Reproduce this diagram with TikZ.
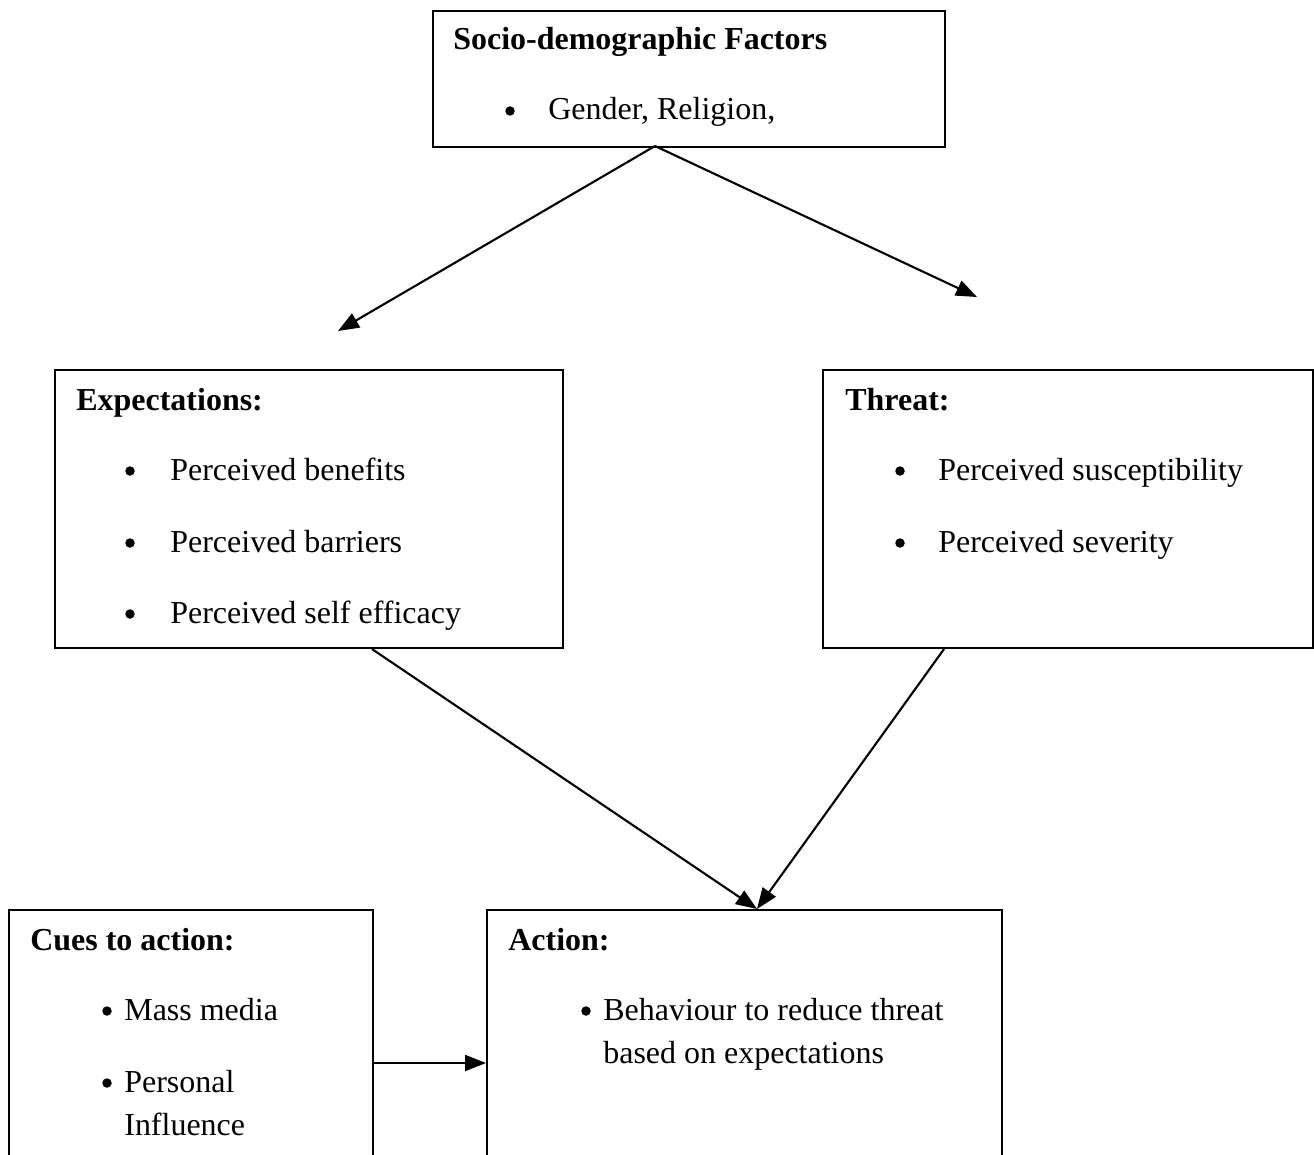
\documentclass[tikz,border=0pt]{standalone}
\usepackage{fontspec}
\setmainfont{Liberation Serif}
\usetikzlibrary{arrows.meta}
\tikzset{
  box/.style={draw, line width=1.2pt, anchor=north west, inner sep=0pt},
  head/.style={anchor=base west, font=\fontsize{18.2}{22}\selectfont\bfseries, inner sep=0pt},
  item/.style={anchor=base west, font=\fontsize{18.2}{22}\selectfont, inner sep=0pt},
  dot/.style={circle, fill, inner sep=0pt, minimum size=0.19cm},
  link/.style={line width=1.2pt, -{Triangle[length=0.42cm, width=0.32cm]}}
}
\begin{document}
\begin{tikzpicture}[x=0.02cm, y=-0.02cm]
\useasboundingbox (0,0) rectangle (1314,1155);
\clip (0,0) rectangle (1314,1155);

% рамки
            \node [box, minimum width=10.24cm, minimum height=2.72cm] (socio) at ( 432, 10 ) {};
            \node [box, minimum width=10.16cm, minimum height=5.56cm] (expect) at ( 54, 369 ) {};
            \node [box, minimum width=9.8cm, minimum height=5.56cm] (threat) at ( 822, 369 ) {};
            \node [box, minimum width=7.28cm, minimum height=6cm] (cues) at ( 8, 909 ) {};
            \node [box, minimum width=10.3cm, minimum height=6cm] (action) at ( 486, 909 ) {};

% факторы
            \node [head] (socioTitle) at ( 453, 50 ) {Socio-demographic Factors};
            \node [dot] (socioDot) at ( 510, 111 ) {};
            \node [item] (socioItem) at ( 548, 120 ) {Gender, Religion,};

% ожидания
            \node [head] (expectTitle) at ( 76, 410 ) {Expectations:};
            \node [dot] (expectDotA) at ( 130, 471 ) {};
            \node [item] (expectA) at ( 170, 480 ) {Perceived benefits};
            \node [dot] (expectDotB) at ( 130, 543 ) {};
            \node [item] (expectB) at ( 170, 552 ) {Perceived barriers};
            \node [dot] (expectDotC) at ( 130, 614 ) {};
            \node [item] (expectC) at ( 170, 623 ) {Perceived self efficacy};

% угроза
            \node [head] (threatTitle) at ( 845, 410 ) {Threat:};
            \node [dot] (threatDotA) at ( 900, 471 ) {};
            \node [item] (threatA) at ( 938, 480 ) {Perceived susceptibility};
            \node [dot] (threatDotB) at ( 900, 543 ) {};
            \node [item] (threatB) at ( 938, 552 ) {Perceived severity};

% сигналы
            \node [head] (cuesTitle) at ( 30, 950 ) {Cues to action:};
            \node [dot] (cuesDotA) at ( 107, 1011 ) {};
            \node [item] (cuesA) at ( 124, 1020 ) {Mass media};
            \node [dot] (cuesDotB) at ( 107, 1083 ) {};
            \node [item] (cuesB) at ( 124, 1092 ) {Personal};
            \node [item] (cuesC) at ( 124, 1135 ) {Influence};

% действие
            \node [head] (actionTitle) at ( 508, 950 ) {Action:};
            \node [dot] (actionDot) at ( 586, 1011 ) {};
            \node [item] (actionA) at ( 603, 1020 ) {Behaviour to reduce threat};
            \node [item] (actionB) at ( 603, 1063 ) {based on expectations};

% стрелки
            \coordinate (split) at ( 655, 146 );
            \coordinate (leftEnd) at ( 338, 331 );
            \coordinate (rightEnd) at ( 977, 297 );
            \coordinate (meet) at ( 757, 909 );
            \draw [link] (split) -- (leftEnd);
            \draw [link] (split) -- (rightEnd);
            \draw [link] (expect.south west) ++( 318, 0 ) -- (meet);
            \draw [link] (threat.south west) ++( 122, 0 ) -- (meet);
            \draw [link] (cues.east |- 0,1063) -- (action.west |- 0,1063);
        \end{tikzpicture}
\end{document}
